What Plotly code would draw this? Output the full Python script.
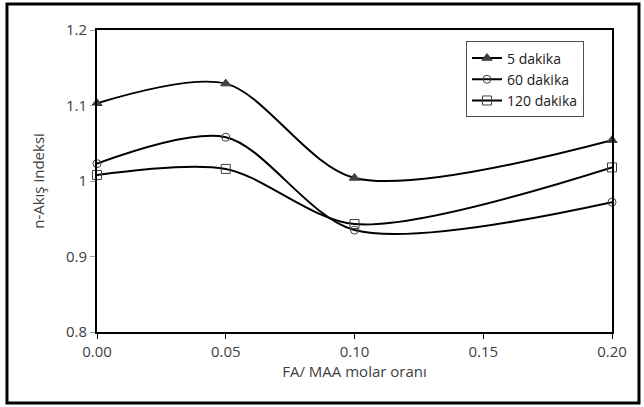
import plotly.graph_objects as go

x_vals = [0.00, 0.05, 0.10, 0.20]
series_names = ["5 dakika", "60 dakika", "120 dakika"]
y_5 = [1.103, 1.129, 1.004, 1.054]
y_60 = [1.023, 1.058, 0.935, 0.972]
y_120 = [1.008, 1.016, 0.943, 1.018]
y_ticks = [0.8, 0.9, 1.0, 1.1, 1.2]
y_tick_labels = ["0.8", "0.9", "1", "1.1", "1.2"]
x_ticks = [0.00, 0.05, 0.10, 0.15, 0.20]
x_tick_labels = ["0.00", "0.05", "0.10", "0.15", "0.20"]

FONT = "Open Sans"
fig = go.Figure()
styles = [
    dict(symbol="triangle-up", size=9, color="#404040", line=dict(color="#404040", width=1)),
    dict(symbol="circle-open", size=8, color="#404040", line=dict(color="#404040", width=1)),
    dict(symbol="square-open", size=9, color="#404040", line=dict(color="#404040", width=1)),
]
for name, ys, m in zip(series_names, [y_5, y_60, y_120], styles):
    fig.add_trace(go.Scatter(
        x=x_vals, y=ys, name=name, mode="lines+markers",
        line=dict(color="black", width=2, shape="spline", smoothing=0.85),
        marker=m, cliponaxis=False,
    ))

fig.update_layout(
    width=644, height=407,
    margin=dict(l=97, r=32, t=30, b=75),
    paper_bgcolor="white", plot_bgcolor="white",
    font=dict(family=FONT, size=15, color="#404040"),
    showlegend=True,
    legend=dict(
        x=0.7165, y=0.962, xanchor="left", yanchor="top",
        bordercolor="#505050", borderwidth=1, bgcolor="white",
        font=dict(family=FONT, size=14, color="#202020"),
        tracegroupgap=0, itemwidth=30,
    ),
    xaxis=dict(
        range=[0, 0.2], tickvals=x_ticks, ticktext=x_tick_labels,
        showgrid=False, zeroline=False,
        showline=True, linecolor="black", linewidth=2, mirror=True,
        ticks="outside", ticklen=5, tickcolor="black", tickwidth=1,
        title=dict(text="FA/ MAA molar oranı", font=dict(family=FONT, size=15, color="#404040"), standoff=5),
        tickfont=dict(family=FONT, size=15, color="#404040"),
    ),
    yaxis=dict(
        range=[0.8, 1.2], tickvals=y_ticks, ticktext=y_tick_labels,
        showgrid=False, zeroline=False,
        showline=True, linecolor="black", linewidth=2, mirror=True,
        ticks="outside", ticklen=5, tickcolor="#a0a0a0", tickwidth=1,
        title=dict(text="n-Akış indeksi", font=dict(family=FONT, size=15, color="#404040"), standoff=18),
        tickfont=dict(family=FONT, size=15, color="#404040"),
    ),
    shapes=[dict(
        type="rect", xref="paper", yref="paper",
        x0=-0.1748, x1=1.0524, y0=-0.235, y1=1.086,
        line=dict(color="black", width=3), fillcolor="rgba(0,0,0,0)", layer="below",
    )],
)

fig.write_html(
    "out.html",
    config={"displayModeBar": False},
    post_script="document.body.style.margin='0';document.body.style.padding='0';",
)
